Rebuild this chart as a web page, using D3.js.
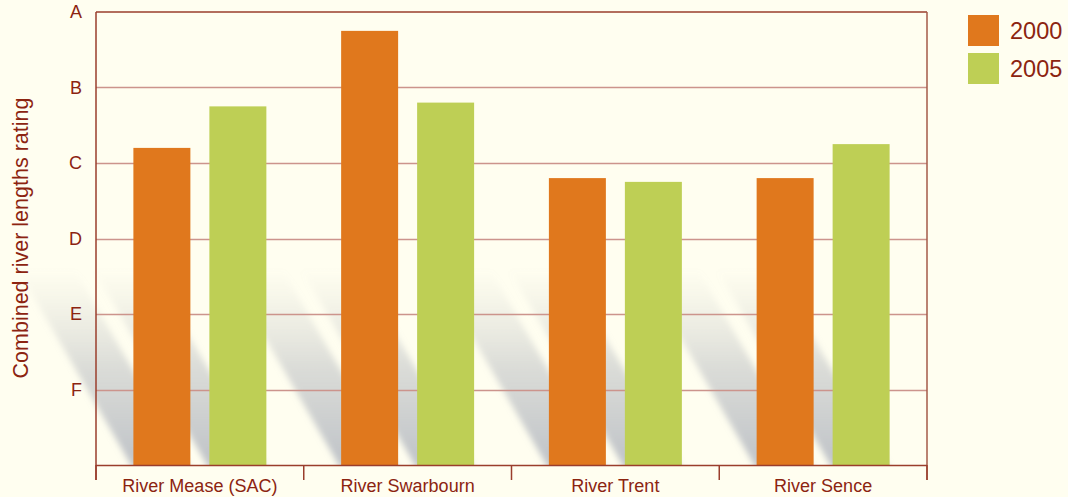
<!DOCTYPE html>
<html>
<head>
<meta charset="utf-8">
<script src="https://cdn.jsdelivr.net/npm/d3@7"></script>
<style>
  html, body { margin: 0; padding: 0; background: #fffef0; }
  svg { display: block; font-family: "Liberation Sans", Arial, sans-serif; }
</style>
</head>
<body>
<svg id="chart" width="1068" height="497"></svg>
<script>
// ---- data ----
const categories = ["River Mease (SAC)", "River Swarbourn", "River Trent", "River Sence"];
const seriesNames = ["2000", "2005"];
const values2000 = [4.2, 5.75, 3.8, 3.8];
const values2005 = [4.75, 4.8, 3.75, 4.25];
const tickValues = [1, 2, 3, 4, 5, 6];
const tickLabels = ["F", "E", "D", "C", "B", "A"];
const seriesColors = ["#e0781d", "#becf55"];

(function () {
// ---- layout ----
const W = 1068, H = 497;
const mLeft = 96, mRight = 927, mTop = 12, mBottom = 465;
const textColor = "#8c2410";
const axisColor = "#9a3e2c";
const gridColor = "#cc948c";

const svg = d3.select("#chart");
svg.append("rect").attr("width", W).attr("height", H).attr("fill", "#fffef0");

const x = d3.scaleBand().domain(categories).range([mLeft, mRight]).paddingInner(0).paddingOuter(0);
const xs = d3.scaleBand().domain(seriesNames).range([0, x.bandwidth()]).paddingInner(0.25).paddingOuter(0.492);
const y = d3.scaleLinear().domain([0, 6]).range([mBottom, mTop]);

const rows = categories.map((c, i) => ({ cat: c, vals: [values2000[i], values2005[i]] }));
const bars = [];
rows.forEach(r => r.vals.forEach((v, j) => bars.push({ cat: r.cat, series: seriesNames[j], value: v, color: seriesColors[j] })));

// ---- defs: shadow gradient + blur ----
const defs = svg.append("defs");
const grad = defs.append("linearGradient").attr("id", "shadowGrad")
  .attr("x1", 0).attr("y1", 1).attr("x2", 0).attr("y2", 0);
grad.append("stop").attr("offset", "0%").attr("stop-color", "#a2a8b6").attr("stop-opacity", 0.7);
grad.append("stop").attr("offset", "50%").attr("stop-color", "#adb1b9").attr("stop-opacity", 0.45);
grad.append("stop").attr("offset", "100%").attr("stop-color", "#c0c2c0").attr("stop-opacity", 0);
const blur = defs.append("filter").attr("id", "soft").attr("x", "-30%").attr("y", "-10%").attr("width", "160%").attr("height", "120%");
blur.append("feGaussianBlur").attr("stdDeviation", 3);
defs.append("clipPath").attr("id", "belowAxis").append("rect")
  .attr("x", 0).attr("y", 0).attr("width", W).attr("height", mBottom);

// ---- shadows ----
const shadowLen = 195, slant = 0.58;
svg.append("g").attr("clip-path", "url(#belowAxis)")
  .selectAll("path").data(bars).join("path")
  .attr("filter", "url(#soft)")
  .attr("fill", "url(#shadowGrad)")
  .attr("d", d => {
    const x0 = x(d.cat) + xs(d.series), x1 = x0 + xs.bandwidth();
    const yb = y(0) + 4, yt = y(0) - shadowLen;
    const dx = slant * (yb - yt);
    return `M${x0},${yb}L${x1},${yb}L${x1 - dx},${yt}L${x0 - dx},${yt}Z`;
  });

// ---- gridlines ----
svg.append("g").selectAll("line").data(tickValues.slice(0, -1)).join("line")
  .attr("x1", mLeft).attr("x2", mRight)
  .attr("y1", d => Math.round(y(d)) + 0.5).attr("y2", d => Math.round(y(d)) + 0.5)
  .attr("stroke", gridColor).attr("stroke-width", 1.5);

// top frame line
svg.append("line").attr("x1", mLeft).attr("x2", mRight).attr("y1", y(6)).attr("y2", y(6))
  .attr("stroke", axisColor).attr("stroke-width", 1.5);
// right frame line
svg.append("line").attr("x1", mRight).attr("x2", mRight).attr("y1", y(6)).attr("y2", mBottom + 15)
  .attr("stroke", "#a55a48").attr("stroke-width", 1.5);

// ---- bars ----
svg.append("g").selectAll("rect").data(bars).join("rect")
  .attr("x", d => x(d.cat) + xs(d.series))
  .attr("width", xs.bandwidth())
  .attr("y", d => y(d.value))
  .attr("height", d => y(0) - y(d.value))
  .attr("fill", d => d.color);

// ---- y axis ----
const yAxis = d3.axisLeft(y).tickValues(tickValues).tickFormat((d, i) => tickLabels[i]).tickSize(0).tickPadding(14);
const gy = svg.append("g").attr("transform", `translate(${mLeft},0)`).call(yAxis);
gy.select(".domain").remove();
gy.selectAll("text").attr("fill", textColor).attr("font-size", 18).attr("font-family", "Liberation Sans, Arial, sans-serif");
svg.append("line").attr("x1", mLeft).attr("x2", mLeft).attr("y1", mTop).attr("y2", mBottom + 15)
  .attr("stroke", axisColor).attr("stroke-width", 1.5);

// ---- x axis ----
const gx = svg.append("g").attr("transform", `translate(0,${mBottom})`);
gx.append("line").attr("x1", mLeft).attr("x2", mRight).attr("y1", 0.5).attr("y2", 0.5)
  .attr("stroke", axisColor).attr("stroke-width", 1.5);
const boundaries = categories.map(c => x(c)).concat([x(categories[categories.length - 1]) + x.bandwidth()]);
gx.selectAll("line.tick").data(boundaries).join("line").attr("class", "tick")
  .attr("x1", d => d).attr("x2", d => d).attr("y1", 0).attr("y2", 15)
  .attr("stroke", axisColor).attr("stroke-width", 1.5);
gx.selectAll("text").data(categories).join("text")
  .attr("x", d => x(d) + x.bandwidth() / 2).attr("y", 27)
  .attr("text-anchor", "middle").attr("fill", textColor).attr("font-size", 18)
  .text(d => d);

// ---- y title ----
svg.append("text")
  .attr("transform", `translate(28,238) rotate(-90)`)
  .attr("text-anchor", "middle").attr("fill", textColor).attr("font-size", 21.5)
  .text("Combined river lengths rating");

// ---- legend ----
const lg = svg.append("g").attr("transform", "translate(968,15)");
seriesNames.forEach((s, i) => {
  lg.append("rect").attr("x", 0).attr("y", i * 38).attr("width", 31).attr("height", 31).attr("fill", seriesColors[i]);
  lg.append("text").attr("x", 42).attr("y", i * 38 + 24).attr("fill", textColor).attr("font-size", 23.5).text(s);
});
})();
</script>
</body>
</html>
